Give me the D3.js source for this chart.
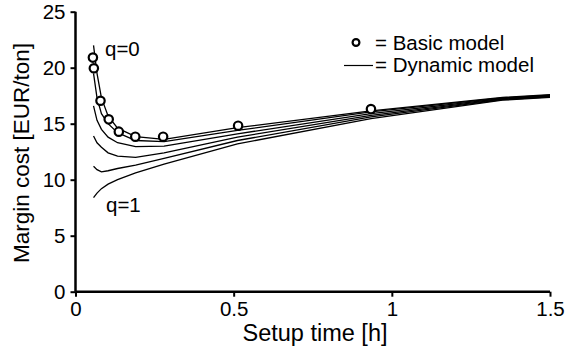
<!DOCTYPE html>
<html><head><meta charset="utf-8">
<script src="https://cdn.jsdelivr.net/npm/d3@7"></script>
<style>
html,body{margin:0;padding:0;background:#fff;}
text{font-family:"Liberation Sans",Arial,sans-serif;fill:#000;}
</style></head>
<body><svg id="c" width="567" height="351"></svg>
<script>
// ---- data ----
const xTicks = [0, 0.5, 1, 1.5];
const yTicks = [0, 5, 10, 15, 20, 25];
const basicX = [0.055, 0.058, 0.079, 0.105, 0.137, 0.189, 0.277, 0.514, 0.934];
const basicY = [20.9, 19.95, 17.05, 15.39, 14.29, 13.84, 13.84, 14.82, 16.31];
const dynX = [0.057, 0.068, 0.082, 0.103, 0.133, 0.19, 0.28, 0.512, 0.934, 1.35, 1.5];
const dynQ0   = [22.0, 19.5, 17.3, 15.7, 14.6, 13.85, 13.6, 14.65, 16.15, 17.35, 17.6];
const dynQ02  = [19.5, 17.3, 15.9, 15.0, 14.2, 13.5, 13.4, 14.4, 16.05, 17.3, 17.55];
const dynQ04  = [16.6, 15.3, 14.5, 13.8, 13.3, 12.95, 13.0, 14.1, 15.9, 17.25, 17.5];
const dynQ06  = [13.9, 13.3, 12.9, 12.4, 12.1, 12.0, 12.4, 13.8, 15.75, 17.2, 17.45];
const dynQ08  = [11.2, 10.9, 10.7, 10.8, 11.0, 11.3, 11.9, 13.5, 15.6, 17.15, 17.4];
const dynQ1   = [8.4, 8.8, 9.2, 9.6, 10.0, 10.6, 11.4, 13.2, 15.45, 17.1, 17.35];
const dynSeries = [dynQ0, dynQ02, dynQ04, dynQ06, dynQ08, dynQ1];
const xLabel = "Setup time [h]";
const yLabel = "Margin cost [EUR/ton]";
const legendLabels = ["= Basic model", "= Dynamic model"];

// ---- chart ----
const svg = d3.select("#c");
const x = d3.scaleLinear().domain([0, 1.5]).range([75.5, 550]);
const y = d3.scaleLinear().domain([0, 25]).range([291.7, 11.7]);

const line = d3.line().x(d => x(d[0])).y(d => y(d[1]));
dynSeries.forEach(s => {
  svg.append("path")
    .datum(dynX.map((xv, i) => [xv, s[i]]))
    .attr("d", line)
    .attr("fill", "none").attr("stroke", "#000").attr("stroke-width", 1.3);
});

svg.selectAll("circle.basic").data(basicX.map((xv, i) => [xv, basicY[i]]))
  .enter().append("circle").attr("class", "basic")
  .attr("cx", d => x(d[0])).attr("cy", d => y(d[1])).attr("r", 4.2)
  .attr("fill", "#fff").attr("stroke", "#000").attr("stroke-width", 2.2);

const xAxis = svg.append("g").attr("transform", `translate(0,${y(0)})`)
  .call(d3.axisBottom(x).tickValues(xTicks).tickFormat(d3.format("")).tickSize(5).tickPadding(5));
const yAxis = svg.append("g").attr("transform", `translate(${x(0)},0)`)
  .call(d3.axisLeft(y).tickValues(yTicks).tickSize(5).tickPadding(5));
[xAxis, yAxis].forEach(g => {
  g.select(".domain").attr("stroke", "#000").attr("stroke-width", 2.5);
  g.selectAll(".tick line").attr("stroke", "#000").attr("stroke-width", 2);
  g.selectAll("text").attr("font-size", 20.5).attr("font-family", "Liberation Sans, Arial, sans-serif").attr("fill", "#000");
});
xAxis.select(".domain").attr("d", `M${x(0)},0H${x(1.5)}`);
yAxis.select(".domain").attr("d", `M0,${y(0)}V${y(25)}`);

svg.append("text").attr("x", 315).attr("y", 341).attr("text-anchor", "middle")
  .attr("font-size", 23.5).text(xLabel);
svg.append("text").attr("transform", "translate(29,153) rotate(-90)").attr("text-anchor", "middle")
  .attr("font-size", 22.5).text(yLabel);

svg.append("text").attr("x", 105).attr("y", 56).attr("font-size", 20.5).text("q=0");
svg.append("text").attr("x", 106).attr("y", 212).attr("font-size", 20.5).text("q=1");

// legend
svg.append("circle").attr("cx", 356).attr("cy", 42.5).attr("r", 3.4)
  .attr("fill", "#fff").attr("stroke", "#000").attr("stroke-width", 2.2);
svg.append("line").attr("x1", 344).attr("x2", 373).attr("y1", 65.5).attr("y2", 65.5)
  .attr("stroke", "#000").attr("stroke-width", 1.2);
svg.append("text").attr("x", 375).attr("y", 50).attr("font-size", 20.5).text(legendLabels[0]);
svg.append("text").attr("x", 375).attr("y", 72).attr("font-size", 20.5).text(legendLabels[1]);
</script></body></html>
